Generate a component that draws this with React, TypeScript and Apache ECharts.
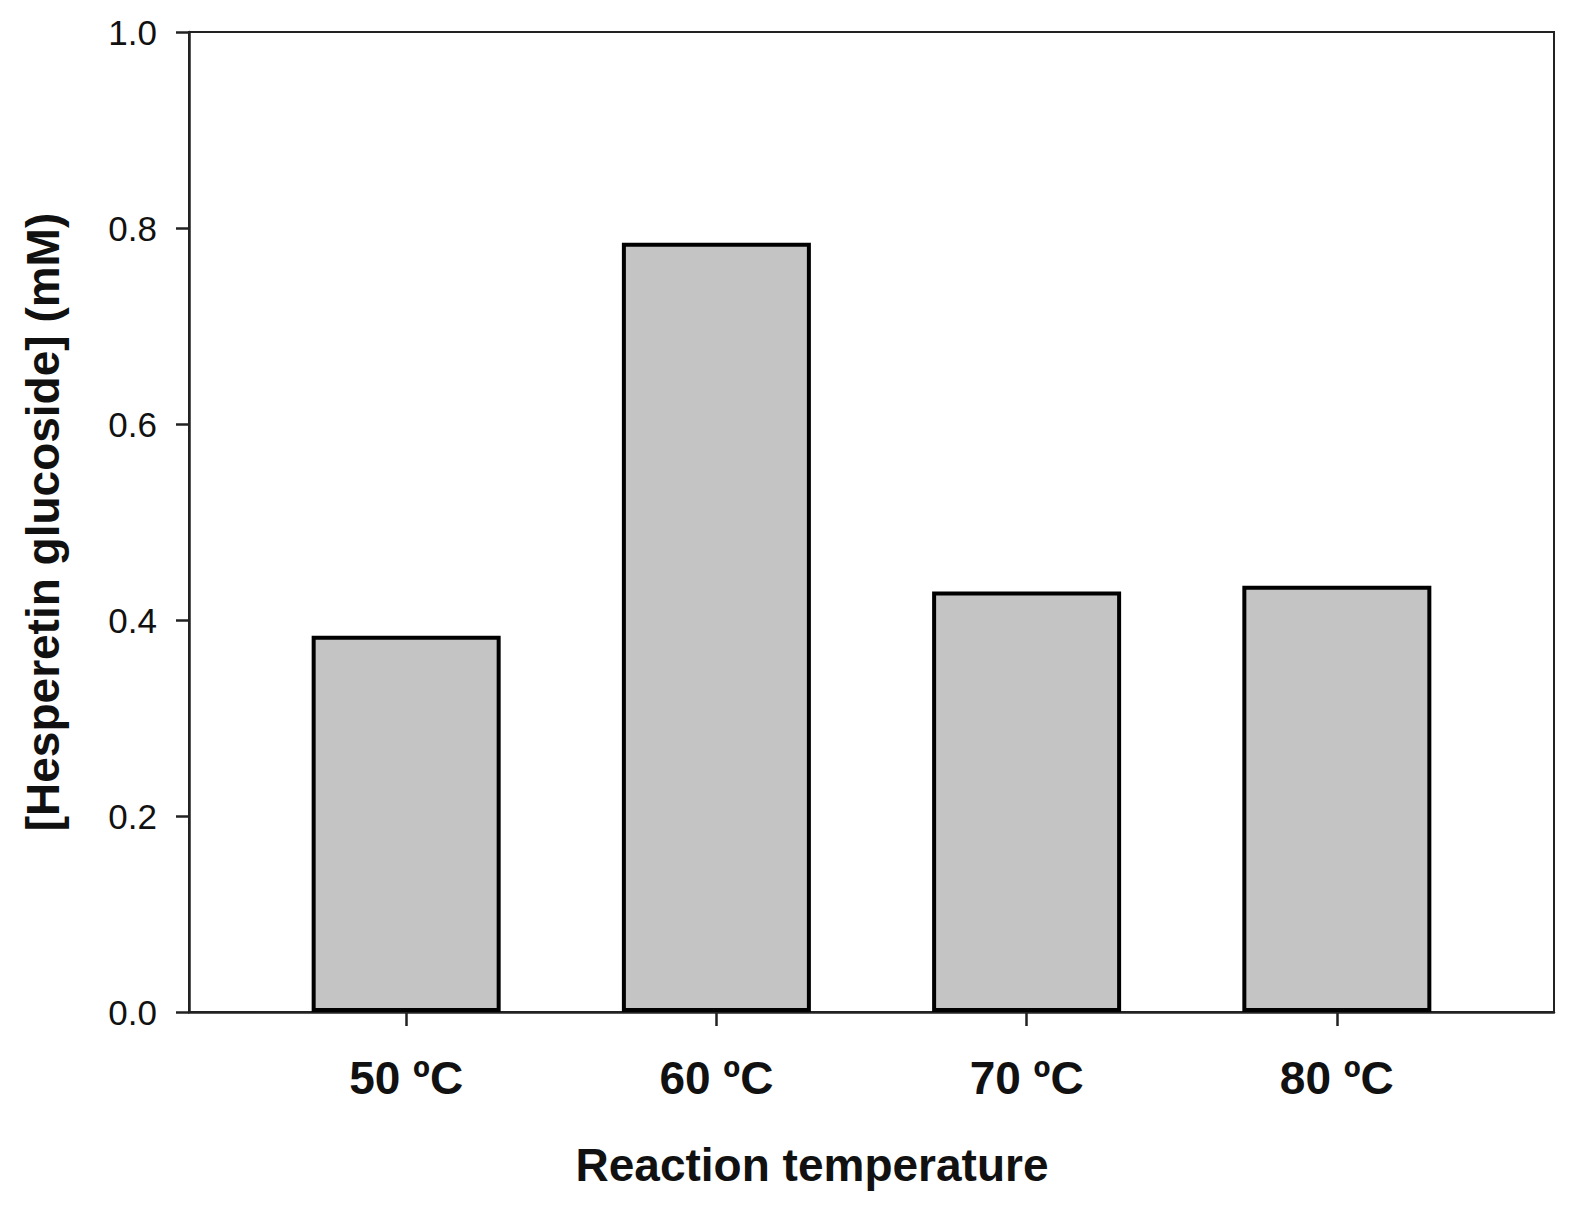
import React, { useEffect, useRef } from "react";
import * as echarts from "echarts";

const categories = ["50 ºC", "60 ºC", "70 ºC", "80 ºC"];
const positions = [1, 2, 3, 4];
const values = [0.384, 0.785, 0.429, 0.435];
const yTicks = [0, 0.2, 0.4, 0.6, 0.8, 1.0];
const xTitle = "Reaction temperature";
const yTitle = "[Hesperetin glucoside] (mM)";

export default function App() {
  const ref = useRef<HTMLDivElement>(null);
  useEffect(() => {
    if (!ref.current) return;
    const chart = echarts.init(ref.current, null, { renderer: "svg" });
    const font = "'Liberation Sans', Arial, sans-serif";
    chart.setOption({
      animation: false,
      backgroundColor: "#ffffff",
      grid: {
        left: 189,
        right: 18,
        top: 32,
        bottom: 202,
        show: true,
        borderColor: "#222",
        borderWidth: 2,
        backgroundColor: "transparent",
      },
      graphic: [
        {
          type: "text",
          x: 812,
          y: 1165,
          style: {
            text: xTitle,
            fontFamily: font,
            fontWeight: "bold",
            fontSize: 46,
            fill: "#111",
            textAlign: "center",
            textVerticalAlign: "middle",
          },
        },
      ],
      xAxis: {
        type: "value",
        min: 0.3,
        max: 4.7,
        splitLine: { show: false },
        axisLine: { show: true, onZero: false, lineStyle: { color: "#222", width: 2.5 } },
        axisTick: {
          show: true,
          customValues: positions,
          length: 14,
          lineStyle: { color: "#222", width: 2.5 },
        },
        axisLabel: {
          customValues: positions,
          formatter: (v: number) => categories[positions.indexOf(Math.round(v))] ?? "",
          fontFamily: font,
          fontWeight: "bold",
          fontSize: 46,
          color: "#111",
          margin: 43,
        },
      },
      yAxis: {
        type: "value",
        min: 0,
        max: 1,
        interval: 0.2,
        splitLine: { show: false },
        axisLine: { show: true, lineStyle: { color: "#222", width: 2.5 } },
        axisTick: { show: true, length: 13, lineStyle: { color: "#222", width: 2.5 } },
        axisLabel: {
          customValues: yTicks,
          formatter: (v: number) => v.toFixed(1),
          fontFamily: font,
          fontSize: 35,
          color: "#111",
          margin: 32,
        },
        name: yTitle,
        nameLocation: "middle",
        nameRotate: 90,
        nameGap: 123,
        nameTextStyle: { fontFamily: font, fontWeight: "bold", fontSize: 46, color: "#111" },
      },
      series: [
        {
          type: "bar",
          data: positions.map((p, i) => [p, values[i]]),
          barWidth: 189,
          itemStyle: { color: "#c4c4c4", borderColor: "#000", borderWidth: 4 },
        },
      ],
    });
    return () => chart.dispose();
  }, []);
  return (
    <div
      ref={ref}
      style={{ position: "absolute", left: 0, top: 0, width: 1572, height: 1214 }}
    />
  );
}
